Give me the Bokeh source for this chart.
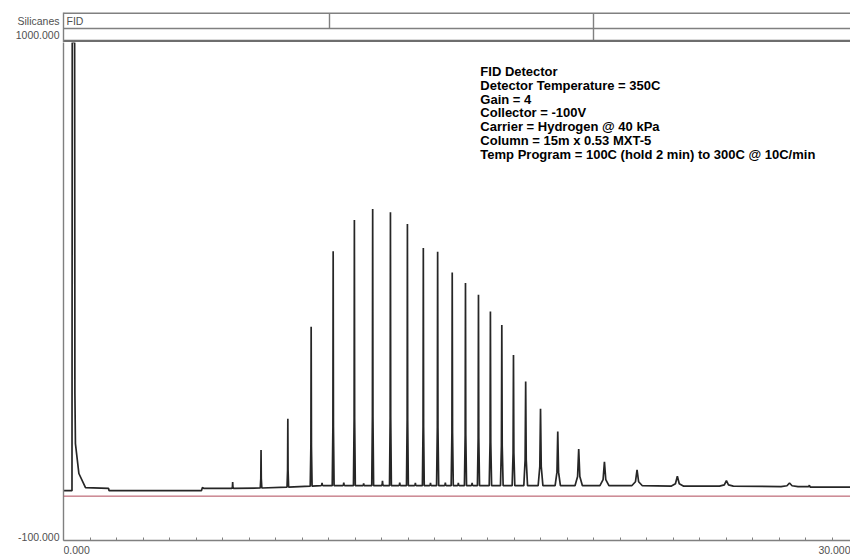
import numpy as np
from bokeh.plotting import figure
from bokeh.models import Range1d, FixedTicker, Label, Span
from bokeh.layouts import column
from bokeh.embed import file_html
from bokeh.resources import INLINE

# ---------------- data ----------------
# solvent peak (off-scale) and the early baseline, time in min, signal in mV
solvent_t = [0.00, 0.32, 0.33, 0.42, 0.43, 0.45, 0.58, 0.83, 1.70, 1.72, 5.20, 5.24, 5.30]
solvent_v = [10, 10, 1000, 1000, 224, 114, 48, 17, 15, 10, 10, 17, 15]

# main (n-alkane) peaks
peak_t = [6.38, 7.45, 8.46, 9.34, 10.17, 10.97, 11.66, 12.33, 12.97, 13.57,
          14.11, 14.66, 15.16, 15.65, 16.10, 16.53, 16.97, 17.43, 17.99, 18.64,
          19.43, 20.40, 21.63, 23.15, 25.00, 27.38]
peak_top = [29, 100, 169, 372, 539, 608, 632, 625, 599, 546,
            538, 492, 469, 443, 406, 376, 310, 251, 191, 141,
            102, 74, 56, 42, 32, 27]
peak_base = [15, 16, 18, 20, 21, 21, 21, 21, 21, 21,
             21, 21, 21, 21, 21, 21, 21, 21, 21, 21,
             21, 21, 21, 20, 20, 19]
peak_hw = [0.03, 0.03, 0.03, 0.035, 0.035, 0.035, 0.035, 0.035, 0.035, 0.035,
           0.04, 0.04, 0.04, 0.04, 0.045, 0.05, 0.05, 0.07, 0.09, 0.10,
           0.14, 0.17, 0.20, 0.24, 0.26, 0.32]

# small (branched) peaks between the main peaks
minor_t = [9.75, 10.57, 11.32, 12.03, 12.68, 13.27, 13.84, 14.40, 14.89, 15.41]
minor_top = [27, 28, 26, 32, 28, 27, 27, 28, 27, 27]
minor_base = 21

# end of the run
tail_t = [28.10, 28.13, 28.16, 29.70]
tail_v = [19, 22, 18, 18]

zero_line = -2
x_end = 29.68                      # visible end of the time axis (min)
y_ticks = [-100, 1000]
y_tick_labels = ["-100.000", "1000.000"]
x_tick_labels = ["0.000", "30.000"]
channel_labels = ["Silicanes", "FID"]

info_lines = [
    "FID Detector",
    "Detector Temperature = 350C",
    "Gain = 4",
    "Collector = -100V",
    "Carrier = Hydrogen @ 40 kPa",
    "Column = 15m x 0.53 MXT-5",
    "Temp Program = 100C (hold 2 min) to 300C @ 10C/min",
]

# ---------------- build the trace ----------------
events = sorted(
    list(zip(peak_t, peak_top, peak_base, peak_hw))
    + [(t, v, minor_base, 0.04) for t, v in zip(minor_t, minor_top)]
)
xs = list(solvent_t)
ys = list(solvent_v)
for t, top, base, hw in events:
    xs += [t - hw, t - 0.3 * hw, t, t + 0.3 * hw, t + hw]
    ys += [base, base + 0.25 * (top - base), top, base + 0.25 * (top - base), base]
xs += tail_t
ys += tail_v

GRAY = "#808080"
TXT = "#505050"
FONT = "Liberation Sans"


def style_left_axis(ax):
    ax.major_tick_in = 0
    ax.major_tick_out = 0
    ax.minor_tick_line_color = None
    ax.axis_line_color = GRAY
    ax.axis_line_width = 1.4
    ax.major_label_standoff = 4
    ax.major_label_text_font_size = "10.5px"
    ax.major_label_text_color = TXT
    ax.major_label_text_font = FONT


# ---------------- header strip (pixel coordinates) ----------------
h = figure(width=850, height=42, x_range=Range1d(63, 850), y_range=Range1d(42, 0),
           output_backend="svg", toolbar_location=None,
           min_border_left=63, min_border_right=0, min_border_top=0, min_border_bottom=0,
           x_axis_type=None)
h.outline_line_color = None
h.grid.visible = False
hy = h.yaxis[0]
hy.ticker = FixedTicker(ticks=[20, 34])
hy.major_label_overrides = {20: channel_labels[0], 34: y_tick_labels[1]}
hy.bounds = (12, 42)
style_left_axis(hy)
h.segment(x0=[63, 63, 329, 593], y0=[12.7, 28, 12.7, 12.7],
          x1=[850, 850, 329, 593], y1=[12.7, 28, 28, 41],
          line_color=GRAY, line_width=1.4)
h.segment(x0=[63], y0=[40.8], x1=[850], y1=[40.8], line_color="#6e6e6e", line_width=3)
h.add_layout(Label(x=66, y=20, text=channel_labels[1], text_align="left", text_baseline="middle",
                   text_font_size="10.5px", text_color=TXT, text_font=FONT))

# ---------------- main plot ----------------
xr = Range1d(0, x_end)
p = figure(width=850, height=500, x_range=xr, y_range=Range1d(-100, 1000),
           output_backend="svg", toolbar_location=None,
           min_border_left=63, min_border_right=0, min_border_top=0, min_border_bottom=2)
p.outline_line_color = None
p.grid.visible = False

xa = p.xaxis[0]
xa.ticker = FixedTicker(ticks=list(range(0, 30)))
xa.major_tick_in = 3
xa.major_tick_out = 0
xa.minor_tick_line_color = None
xa.axis_line_color = GRAY
xa.axis_line_width = 1.4
xa.major_tick_line_color = GRAY
xa.major_label_overrides = {i: "" for i in range(0, 30)}
xa.major_label_text_font_size = "1px"
xa.major_label_standoff = 0

ya = p.yaxis[0]
ya.ticker = FixedTicker(ticks=[y_ticks[0]])
ya.major_label_overrides = {y_ticks[0]: y_tick_labels[0]}
style_left_axis(ya)

p.add_layout(Span(location=zero_line, dimension="width", line_color="#b04a5a", line_width=1))
p.line(xs, ys, line_color="#262626", line_width=1.7)

for i, line in enumerate(info_lines):
    p.add_layout(Label(x=15.72, y=1000, y_offset=-(29 + 13.8 * i), text=line,
                       text_align="left", text_baseline="alphabetic",
                       text_font_size="13px", text_font_style="bold",
                       text_color="black", text_font=FONT))

# ---------------- footer with the time-axis end labels ----------------
f = figure(width=850, height=15, x_range=xr, y_range=Range1d(15, 0),
           output_backend="svg", toolbar_location=None,
           min_border_left=63, min_border_right=0, min_border_top=0, min_border_bottom=0,
           x_axis_type=None, y_axis_type=None)
f.outline_line_color = None
f.grid.visible = False
f.add_layout(Label(x=0, y=3, text=x_tick_labels[0], text_align="left", text_baseline="top",
                   text_font_size="10.5px", text_color=TXT, text_font=FONT))
f.add_layout(Label(x=x_end, y=3, text=x_tick_labels[1], text_align="right", text_baseline="top",
                   text_font_size="10.5px", text_color=TXT, text_font=FONT))

layout = column(h, p, f, spacing=0)
open("out.html", "w").write(file_html(layout, INLINE))
